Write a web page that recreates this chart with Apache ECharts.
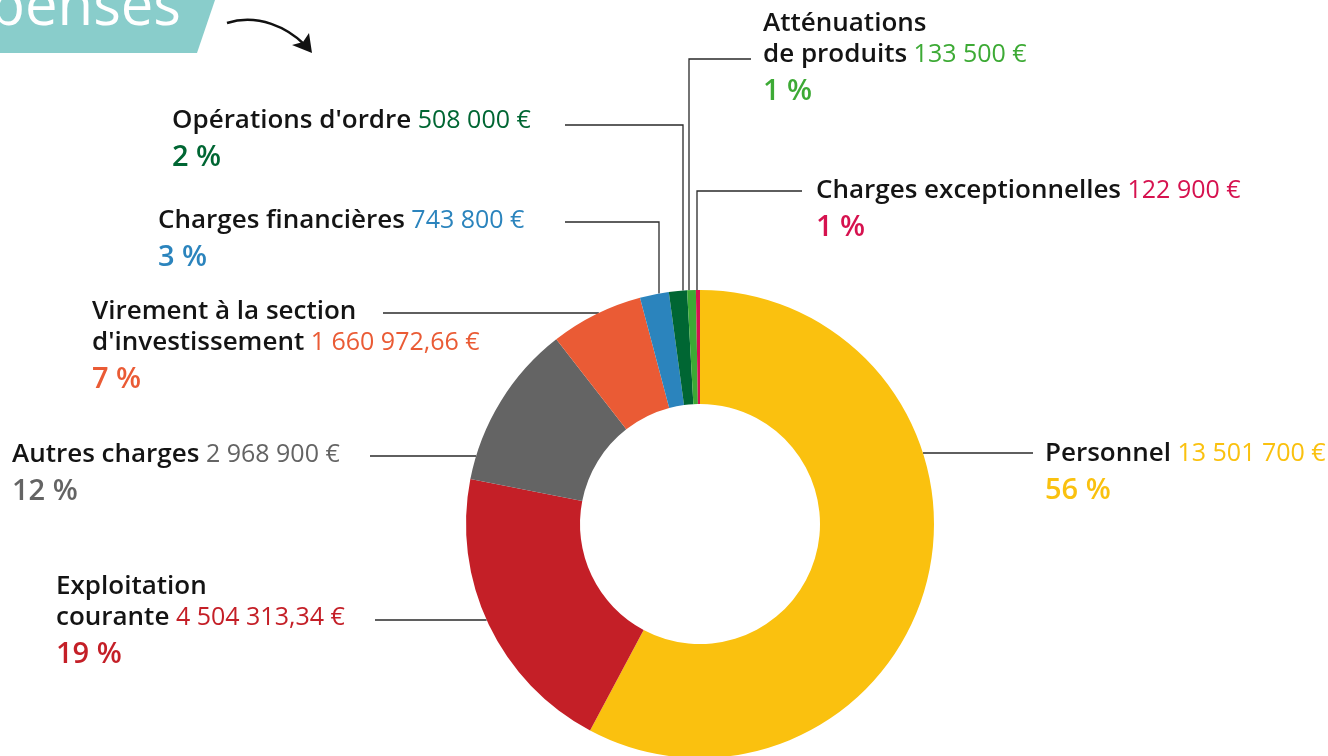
<!DOCTYPE html>
<html>
<head>
<meta charset="utf-8">
<title>Dépenses</title>
<script src="https://cdn.jsdelivr.net/npm/echarts@6/dist/echarts.min.js"></script>
<style>
  html, body { margin: 0; padding: 0; background: #fff; }
  #chart { width: 1328px; height: 756px; }
</style>
</head>
<body>
<div id="chart"></div>
<script>
// postes de dépenses, dans l'ordre du cercle (sens horaire depuis midi)
const postes = ['Personnel', 'Exploitation\ncourante', 'Autres charges', 'Virement à la section\nd\'investissement',
  'Charges financières', 'Opérations d\'ordre', 'Atténuations\nde produits', 'Charges exceptionnelles'];
const montants = ['13 501 700 €', '4 504 313,34 €', '2 968 900 €', '1 660 972,66 €', '743 800 €', '508 000 €', '133 500 €', '122 900 €'];
const pourcents = ['56 %', '19 %', '12 %', '7 %', '3 %', '2 %', '1 %', '1 %'];
// part de chaque secteur telle qu'elle est dessinée (en %)
const parts = [57.8, 20.3, 11.4, 6.4, 2.0, 1.25, 0.6, 0.28];
const couleurs = ['#FAC10F', '#C41F27', '#646464', '#EA5B35', '#2B84BD', '#006633', '#3DAA35', '#D6124F'];

const CX = 700, CY = 524, R_IN = 120, R_OUT = 234;
// étiquettes : coin haut-gauche, puis trait de rappel (y, x côté texte, x du trait vertical)
const etiquettes = [
  { x: 1045, y: 438, ly: 453, lx: 1033, side: 1 },
  { x: 56, y: 571, ly: 620, lx: 375, side: -1 },
  { x: 12, y: 439, ly: 456, lx: 370, side: -1 },
  { x: 92, y: 296, ly: 313, lx: 383, side: -1 },
  { x: 158, y: 205, ly: 222, lx: 565, vx: 659 },
  { x: 172, y: 105, ly: 125, lx: 565, vx: 683 },
  { x: 763, y: 8, ly: 59, lx: 751, vx: 689 },
  { x: 816, y: 175, ly: 191, lx: 802, vx: 697 }
];

const FONT = '"Open Sans"';

function richFor(c) {
  return {
    n: { fontFamily: FONT, fontWeight: 600, fontSize: 26, color: '#141414', lineHeight: 31 },
    v: { fontFamily: FONT, fontWeight: 400, fontSize: 25, color: c, lineHeight: 31 },
    p: { fontFamily: FONT, fontWeight: 600, fontSize: 29, color: c, lineHeight: 43 }
  };
}

const donnees = postes.map((nom, i) => ({
  name: nom,
  value: parts[i],
  itemStyle: { color: couleurs[i] },
  label: { rich: richFor(couleurs[i]) }
}));

function traitRappel(i) {
  const e = etiquettes[i];
  if (e.vx !== undefined) {
    const yBord = CY - Math.sqrt(R_OUT * R_OUT - (e.vx - CX) * (e.vx - CX));
    return [[e.lx, e.ly], [e.vx, e.ly], [e.vx, yBord]];
  }
  const xBord = CX + e.side * Math.sqrt(R_OUT * R_OUT - (e.ly - CY) * (e.ly - CY));
  return [[e.lx, e.ly], [(e.lx + xBord) / 2, e.ly], [xBord, e.ly]];
}

const myChart = echarts.init(document.getElementById('chart'));
myChart.setOption({
  animation: false,
  backgroundColor: '#fff',
  graphic: [
    {
      type: 'polygon',
      shape: { points: [[0, 0], [215, 0], [197, 53], [0, 53]] },
      style: { fill: '#89CDCB' }
    },
    {
      type: 'text',
      x: 181, y: 8,
      style: { text: 'Dépenses', fill: '#fff', font: '500 58px "Open Sans"', align: 'right', verticalAlign: 'middle' }
    },
    {
      type: 'bezierCurve',
      shape: { x1: 227, y1: 23, cpx1: 258, cpy1: 13, cpx2: 288, cpy2: 28, x2: 305, y2: 45 },
      style: { stroke: '#111', lineWidth: 2.5, fill: null }
    },
    {
      type: 'polygon',
      shape: { points: [[312, 53], [292, 45], [303, 42], [309, 33]] },
      style: { fill: '#111' }
    }
  ],
  series: [
    {
      type: 'pie',
      center: [CX, CY],
      radius: [R_IN, R_OUT],
      startAngle: 90,
      clockwise: true,
      avoidLabelOverlap: false,
      silent: true,
      data: donnees,
      label: {
        show: true,
        position: 'outside',
        fontFamily: FONT,
        fontSize: 25,
        formatter: p => {
          const i = p.dataIndex;
          const lignes = postes[i].split('\n').map(t => '{n|' + t + '}');
          lignes[lignes.length - 1] += ' {v|' + montants[i] + '}';
          return lignes.join('\n') + '\n{p|' + pourcents[i] + '}';
        }
      },
      labelLine: {
        show: true,
        lineStyle: { color: '#2a2a2a', width: 1.3 }
      },
      labelLayout: params => {
        const e = etiquettes[params.dataIndex];
        return {
          x: e.x,
          y: e.y,
          align: 'left',
          verticalAlign: 'top',
          labelLinePoints: traitRappel(params.dataIndex)
        };
      }
    }
  ]
});
</script>
</body>
</html>
